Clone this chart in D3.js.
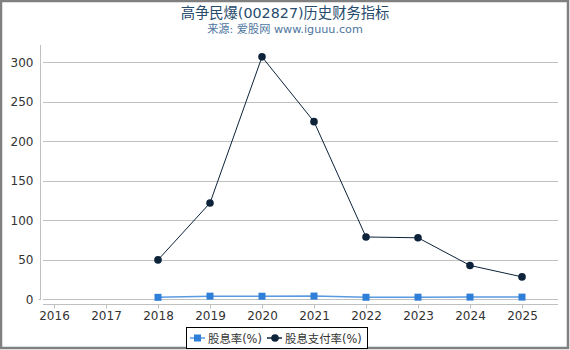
<!DOCTYPE html>
<html>
<head>
<meta charset="utf-8">
<script src="https://cdn.jsdelivr.net/npm/d3@7"></script>
<style>
  body { margin: 0; background: #fff; }
  svg { display: block; font-family: "DejaVu Sans", "Noto Sans CJK SC", sans-serif; }
</style>
</head>
<body>
<div id="chart"></div>
<script>
const years = ["2016", "2017", "2018", "2019", "2020", "2021", "2022", "2023", "2024", "2025"];
const dividendYield = [null, null, 2.1, 3.6, 3.5, 3.7, 2.2, 2.3, 2.4, 2.4];
const payoutRatio = [null, null, 49.5, 121.5, 306.5, 224.5, 78.5, 77.5, 42.5, 28];
const yTicks = [0, 50, 100, 150, 200, 250, 300];
const seriesNames = ["股息率(%)", "股息支付率(%)"];

const width = 570, height = 350;
const fontStack = '"DejaVu Sans", "Noto Sans CJK SC", sans-serif';
const svg = d3.select("#chart").append("svg")
  .attr("width", width)
  .attr("height", height);

// outer frame
svg.append("rect")
  .attr("x", 1).attr("y", 1)
  .attr("width", width - 3).attr("height", height - 3)
  .attr("fill", "none")
  .attr("stroke", "#808080")
  .attr("stroke-width", 2.5);

svg.append("text")
  .attr("x", 285).attr("y", 18)
  .attr("text-anchor", "middle")
  .style("font-size", "14.3px")
  .style("fill", "#274b6d")
  .text("高争民爆(002827)历史财务指标");

svg.append("text")
  .attr("x", 285).attr("y", 33)
  .attr("text-anchor", "middle")
  .style("font-size", "11.2px")
  .style("fill", "#4d759e")
  .text("来源: 爱股网 www.iguuu.com");

const x = d3.scalePoint().domain(years).range([54, 522]);
const y = d3.scaleLinear().domain([0, 300]).range([299, 62]);

// gridlines
svg.append("g")
  .selectAll("line")
  .data(yTicks)
  .join("line")
  .attr("x1", 43).attr("x2", 558)
  .attr("y1", d => Math.round(y(d)) + 0.5)
  .attr("y2", d => Math.round(y(d)) + 0.5)
  .attr("stroke", "#c0c0c0");

// y axis
const yAxis = svg.append("g")
  .attr("transform", "translate(40.5,0)")
  .call(d3.axisLeft(y).tickValues(yTicks).tickSize(0).tickPadding(7))
  .attr("font-family", fontStack);
yAxis.select(".domain").remove();
yAxis.append("line")
  .attr("x1", 0).attr("x2", 0)
  .attr("y1", 45).attr("y2", 300)
  .attr("stroke", "#c0c0c0");
yAxis.append("line")
  .attr("x1", -2).attr("x2", 0)
  .attr("y1", 299.5).attr("y2", 299.5)
  .attr("stroke", "#c0c0c0");
yAxis.selectAll("text")
  .style("font-size", "12px")
  .style("fill", "#333")
  .attr("dy", "0.35em");

// x axis
const xAxis = svg.append("g")
  .attr("transform", "translate(0,304.5)")
  .call(d3.axisBottom(x).tickSize(4).tickPadding(3))
  .attr("font-family", fontStack);
xAxis.select(".domain").remove();
xAxis.append("line")
  .attr("x1", 43).attr("x2", 558)
  .attr("stroke", "#c0c0c0");
xAxis.selectAll(".tick line").attr("stroke", "#c0c0c0");
xAxis.selectAll("text")
  .style("font-size", "12px")
  .style("fill", "#333");

const blue = "#2f7ed8", navy = "#0d233a";

function pts(vals) {
  return years.map((yr, i) => ({ yr, v: vals[i] })).filter(d => d.v != null);
}

const line = d3.line().x(d => x(d.yr)).y(d => y(d.v));

// payout ratio
svg.append("path")
  .datum(pts(payoutRatio))
  .attr("d", line)
  .attr("fill", "none")
  .attr("stroke", navy)
  .attr("stroke-width", 1);
svg.append("g")
  .selectAll("circle")
  .data(pts(payoutRatio))
  .join("circle")
  .attr("cx", d => x(d.yr))
  .attr("cy", d => y(d.v))
  .attr("r", 3.8)
  .attr("fill", navy);

// dividend yield
svg.append("path")
  .datum(pts(dividendYield))
  .attr("d", line)
  .attr("fill", "none")
  .attr("stroke", "#5a9ae0")
  .attr("stroke-width", 1.5);
svg.append("g")
  .selectAll("rect")
  .data(pts(dividendYield))
  .join("rect")
  .attr("x", d => x(d.yr) - 3.5)
  .attr("y", d => y(d.v) - 3.5)
  .attr("width", 7).attr("height", 7)
  .attr("fill", blue);

// legend
const lg = svg.append("g");
lg.append("rect")
  .attr("x", 186.5).attr("y", 327.5)
  .attr("width", 181).attr("height", 21)
  .attr("fill", "#fff")
  .attr("stroke", "#000");
const items = [
  { name: seriesNames[0], color: blue, lineColor: "#5a9ae0", shape: "square", x0: 190 },
  { name: seriesNames[1], color: navy, lineColor: navy, shape: "circle", x0: 267 }
];
items.forEach(it => {
  lg.append("line")
    .attr("x1", it.x0).attr("x2", it.x0 + 15)
    .attr("y1", 338).attr("y2", 338)
    .attr("stroke", it.lineColor)
    .attr("stroke-width", 1.5);
  if (it.shape === "square") {
    lg.append("rect")
      .attr("x", it.x0 + 4).attr("y", 334.5)
      .attr("width", 7).attr("height", 7)
      .attr("fill", it.color);
  } else {
    lg.append("circle")
      .attr("cx", it.x0 + 8).attr("cy", 338)
      .attr("r", 3.8)
      .attr("fill", it.color);
  }
  lg.append("text")
    .attr("x", it.x0 + 18).attr("y", 342.5)
    .style("font-size", "11.4px")
    .style("fill", "#333")
    .text(it.name);
});
</script>
</body>
</html>
